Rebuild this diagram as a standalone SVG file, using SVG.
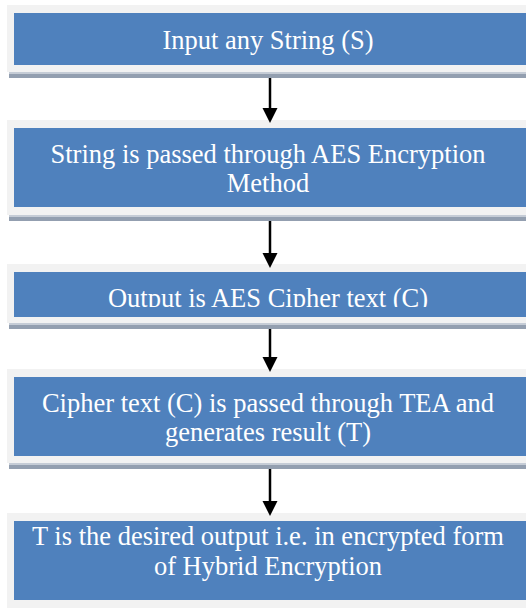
<svg xmlns="http://www.w3.org/2000/svg" width="526" height="608" viewBox="0 0 526 608">
  <style>
    .frame { fill: #f2f2f2; }
    .box { fill: #4f81bd; }
    .shadow { fill: #939fb0; }
    .shadow-hi { fill: #c5ccd6; }
    .label { font-family: "Liberation Serif", "Times New Roman", serif; font-size: 26.5px; fill: #ffffff; text-anchor: middle; }
    .link { stroke: #000000; stroke-width: 2.5; fill: none; }
    .head { fill: #000000; }
  </style>
  <defs>
    <clipPath id="clip3">
      <rect x="14" y="272" width="520" height="35"/>
    </clipPath>
  </defs>
  <rect width="526" height="608" fill="#ffffff"/>

  <g id="node-input">
    <rect class="shadow-hi" x="9" y="72" width="520" height="2"/>
    <rect class="shadow" x="9" y="74" width="520" height="4"/>
    <rect class="frame" x="7" y="5" width="522" height="67"/>
    <rect class="box" x="14" y="13" width="516" height="52"/>
    <text class="label" x="268" y="49">Input any String (S)</text>
  </g>

  <g id="node-aes">
    <rect class="shadow-hi" x="9" y="215" width="520" height="2"/>
    <rect class="shadow" x="9" y="217" width="520" height="4"/>
    <rect class="frame" x="7" y="120" width="522" height="95"/>
    <rect class="box" x="14" y="128" width="516" height="79"/>
    <text class="label" x="268" y="163">String is passed through AES Encryption</text>
    <text class="label" x="268" y="192">Method</text>
  </g>

  <g id="node-cipher">
    <rect class="shadow-hi" x="9" y="323" width="520" height="2"/>
    <rect class="shadow" x="9" y="325" width="520" height="4"/>
    <rect class="frame" x="7" y="264" width="522" height="59"/>
    <rect class="box" x="14" y="272" width="516" height="45"/>
    <text class="label" x="268" y="307" clip-path="url(#clip3)">Output is AES Cipher text (C)</text>
  </g>

  <g id="node-tea">
    <rect class="shadow-hi" x="9" y="463" width="520" height="2"/>
    <rect class="shadow" x="9" y="465" width="520" height="4"/>
    <rect class="frame" x="7" y="369" width="522" height="94"/>
    <rect class="box" x="14" y="377" width="516" height="79"/>
    <text class="label" x="268" y="412">Cipher text (C) is passed through TEA and</text>
    <text class="label" x="268" y="441">generates result (T)</text>
  </g>

  <g id="node-output">
    <rect class="frame" x="7" y="513" width="522" height="100"/>
    <rect class="box" x="14" y="521" width="516" height="79"/>
    <text class="label" x="268" y="545">T is the desired output i.e. in encrypted form</text>
    <text class="label" x="268" y="575">of Hybrid Encryption</text>
  </g>

  <g id="connectors">
    <line class="link" x1="270" y1="78" x2="270" y2="110"/>
    <path class="head" d="M262.5,108 L277.5,108 L270,123 Z"/>
    <line class="link" x1="270" y1="221" x2="270" y2="255"/>
    <path class="head" d="M262.5,253 L277.5,253 L270,268 Z"/>
    <line class="link" x1="270" y1="329" x2="270" y2="359"/>
    <path class="head" d="M262.5,357 L277.5,357 L270,372 Z"/>
    <line class="link" x1="270" y1="469" x2="270" y2="503"/>
    <path class="head" d="M262.5,501 L277.5,501 L270,516 Z"/>
  </g>
</svg>
